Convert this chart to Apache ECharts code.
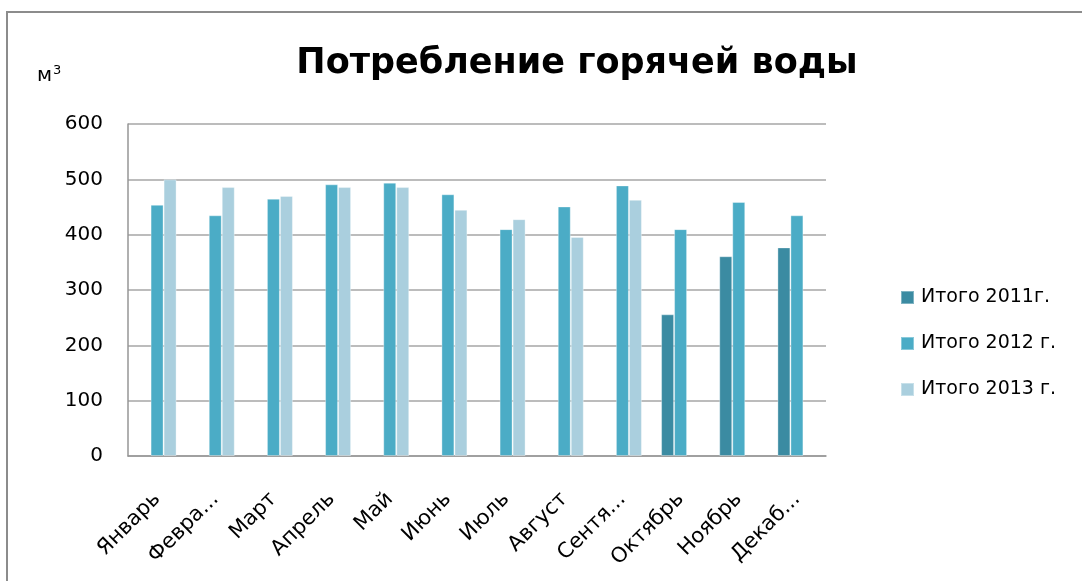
<!DOCTYPE html>
<html><head><meta charset="utf-8">
<script src="https://cdn.jsdelivr.net/npm/echarts@6/dist/echarts.min.js"></script>
<style>html,body{margin:0;padding:0;background:#fff}#c{width:1082px;height:581px}</style>
</head><body><div id="c"></div>
<script>
const categories = ['Январь','Февра...','Март','Апрель','Май','Июнь','Июль','Август','Сентя...','Октябрь','Ноябрь','Декаб...'];
const seriesNames = ['Итого 2011г.','Итого 2012 г.','Итого 2013 г.'];
const values2011 = [null,null,null,null,null,null,null,null,null,256,361,377];
const values2012 = [454,435,465,491,494,473,410,451,489,410,459,435];
const values2013 = [500,486,470,486,486,445,428,396,463,null,null,null];
const yTicks = [0,100,200,300,400,500,600];
const colors = ['#3B8BA2','#4BACC6','#AACFDE'];
const FONT = '"DejaVu Sans", sans-serif';

const chart = echarts.init(document.getElementById('c'), null, {renderer:'canvas'});
const mk = (name, data, color) => ({
  name, type:'bar', data, barWidth:13, barGap:'0%',
  itemStyle:{color, borderColor:'rgba(255,255,255,0.35)', borderWidth:1},
  emphasis:{disabled:true}
});
chart.setOption({
  animation:false,
  textStyle:{fontFamily:FONT},
  title:{text:'Потребление горячей воды', left:577, top:46, textAlign:'center', padding:0,
    textStyle:{fontFamily:FONT, fontSize:35, fontWeight:'bold', color:'#000'}},
  graphic:[
    {type:'rect', shape:{x:7, y:12, width:1090, height:600}, style:{fill:'none', stroke:'#8c8c8c', lineWidth:2}, silent:true},
    {type:'text', left:37, top:64, style:{text:'м{s|3}', fontFamily:FONT, fontSize:20, fill:'#000',
      rich:{s:{fontSize:13, verticalAlign:'top', padding:[0,0,10,1], fontFamily:FONT}}}}
  ],
  legend:{orient:'vertical', left:900, top:288, padding:0, itemWidth:13, itemHeight:13, itemGap:27, icon:'rect',
    data:seriesNames, textStyle:{fontFamily:FONT, fontSize:19, color:'#000', padding:[0,0,0,2]}},
  grid:{left:128, right:256, top:124, bottom:125, containLabel:false},
  xAxis:{type:'category', data:categories,
    axisLine:{lineStyle:{color:'#969696', width:1.5}}, axisTick:{show:false},
    axisLabel:{rotate:45, interval:0, margin:40, fontFamily:FONT, fontSize:21, color:'#000'}},
  yAxis:{type:'value', min:0, max:600, interval:100,
    axisLine:{show:true, lineStyle:{color:'#969696', width:1.5}}, axisTick:{show:false},
    splitLine:{lineStyle:{color:'#a6a6a6', width:1.5}},
    axisLabel:{margin:25, fontFamily:FONT, fontSize:20, color:'#000',
      formatter:v => yTicks.includes(v) ? String(v) : ''}},
  series:[mk(seriesNames[0], values2011, colors[0]), mk(seriesNames[1], values2012, colors[1]), mk(seriesNames[2], values2013, colors[2])]
});
</script></body></html>
